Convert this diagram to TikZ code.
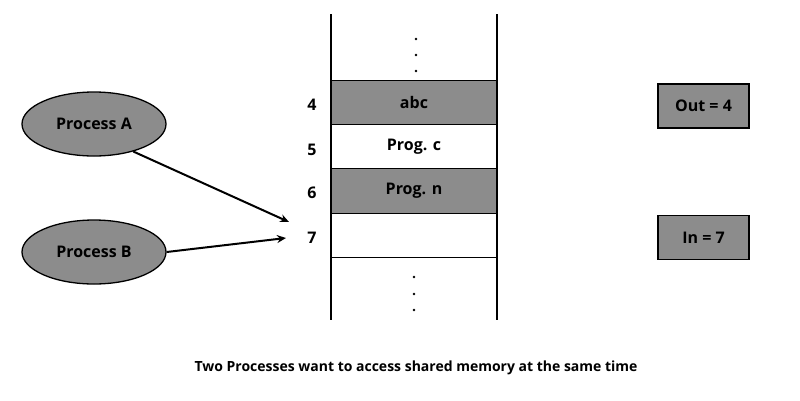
\documentclass[tikz,border=0pt]{standalone}
\usepackage{fontspec}
\setmainfont{Open Sans}
\usetikzlibrary{shapes.geometric,arrows.meta}
\definecolor{cellgray}{HTML}{8C8C8C}
\begin{document}
\begin{tikzpicture}[x=1pt,y=-1pt,
  lbl/.style={font=\fontsize{16}{18}\selectfont\bfseries},
  proc/.style={ellipse,draw,line width=1.3pt,fill=cellgray,minimum width=144pt,minimum height=64pt,lbl},
  reg/.style={draw,line width=1.3pt,fill=cellgray,minimum width=91pt,minimum height=44pt,lbl},
  cell/.style={draw,line width=1pt,minimum width=166pt,minimum height=44.5pt,inner sep=0pt,lbl},
  dot/.style={circle,fill=black,inner sep=0pt,minimum size=2.6pt},
  arr/.style={line width=2pt,-{Stealth[length=9pt,width=8pt]}}]
\useasboundingbox (0,0) rectangle (800,400);
\node[cell,fill=cellgray] (c4) at (414,102.5) {abc};
\node[cell] (c5) at (414,147) {Prog. c};
\node[cell,fill=cellgray] (c6) at (414,191) {Prog. n};
\node[cell] (c7) at (414,235.5) {};
\draw[line width=1.6pt] (331,14) coordinate (l1) -- (331,320) coordinate (l2);
\draw[line width=1.6pt] (497,14) coordinate (r1) -- (497,320) coordinate (r2);
\node[lbl] (n4) at (312,105) {4};
\node[lbl] (n5) at (312,150) {5};
\node[lbl] (n6) at (312,193) {6};
\node[lbl] (n7) at (312,238) {7};
\node[dot] (d1) at (416,39) {};
\node[dot] (d2) at (416,55) {};
\node[dot] (d3) at (416,71) {};
\node[dot] (d4) at (414,277) {};
\node[dot] (d5) at (414,294) {};
\node[dot] (d6) at (414,310) {};
\node[proc] (pa) at (94,124) {Process A};
\node[proc] (pb) at (94,252) {Process B};
\node[reg] (out) at (703.5,106) {Out = 4};
\node[reg] (in) at (703.5,237.5) {In = 7};
\coordinate (ta) at (289,222);
\coordinate (tb) at (286,238);
\draw[arr] (pa.-35) -- (ta);
\draw[arr] (pb.east) -- (tb);
\node[font=\fontsize{14}{16}\selectfont\bfseries] (cap) at (416,368) {Two Processes want to access shared memory at the same time};
\end{tikzpicture}
\end{document}
